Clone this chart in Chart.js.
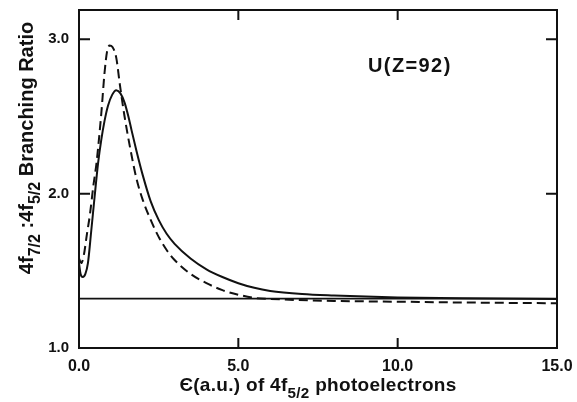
<!DOCTYPE html>
<html>
<head>
<meta charset="utf-8">
<script src="https://cdn.jsdelivr.net/npm/chart.js@4/dist/chart.umd.min.js"></script>
<style>
  html, body { margin: 0; padding: 0; background: #fff; }
  #wrap { position: relative; width: 577px; height: 402px; font-family: "Liberation Sans", Arial, sans-serif; color: #111; }
  #c { position: absolute; left: 0; top: 0; }
  .lbl { position: absolute; font-weight: bold; white-space: nowrap; }
  .lbl sub { font-size: 0.8em; vertical-align: -0.45em; line-height: 0; }
  #xtitle { left: 0; width: 636px; top: 374px; text-align: center; font-size: 19px; line-height: 22px; letter-spacing: 0.3px; }
  #ytitle { width: 320px; left: -134px; top: 137px; text-align: center; font-size: 20px; line-height: 22px; transform: rotate(-90deg); }
  #note { left: 368px; top: 54px; font-size: 20px; letter-spacing: 1.4px; }
</style>
</head>
<body>
<div id="wrap">
  <canvas id="c" width="577" height="402"></canvas>
  <div class="lbl" id="xtitle">&#1028;(a.u.) of 4f<sub>5/2</sub> photoelectrons</div>
  <div class="lbl" id="ytitle">4f<sub>7/2</sub> :4f<sub>5/2</sub> Branching Ratio</div>
  <div class="lbl" id="note">U(Z=92)</div>
</div>
<script>
// energy of 4f5/2 photoelectrons (a.u.) and branching ratio
const solidX = [0, 0.05, 0.12, 0.2, 0.28, 0.38, 0.49, 0.6, 0.7, 0.8, 0.91, 1.04, 1.17, 1.3, 1.43, 1.55, 1.65, 1.8, 2.0, 2.25, 2.5, 2.75, 3.0, 3.5, 4.0, 4.5, 5.0, 5.5, 6.0, 7, 8, 9, 10, 12, 15];
const solidY = [1.55, 1.48, 1.46, 1.48, 1.55, 1.75, 1.98, 2.2, 2.35, 2.47, 2.57, 2.64, 2.67, 2.65, 2.59, 2.5, 2.41, 2.28, 2.12, 1.95, 1.83, 1.74, 1.675, 1.58, 1.51, 1.46, 1.42, 1.39, 1.37, 1.35, 1.34, 1.333, 1.328, 1.322, 1.318];

const dashX = [0, 0.07, 0.15, 0.25, 0.34, 0.45, 0.55, 0.7, 0.8, 0.88, 0.96, 1.05, 1.17, 1.28, 1.43, 1.62, 1.8, 2.0, 2.25, 2.5, 2.75, 3.0, 3.5, 4.0, 4.5, 5.0, 5.5, 6, 8, 10, 12, 15];
const dashY = [1.58, 1.55, 1.6, 1.74, 1.86, 2.05, 2.2, 2.52, 2.78, 2.92, 2.96, 2.95, 2.88, 2.71, 2.5, 2.28, 2.1, 1.96, 1.83, 1.72, 1.635, 1.57, 1.48, 1.42, 1.375, 1.345, 1.325, 1.318, 1.305, 1.30, 1.295, 1.29];

// statistical ratio line
const refX = [0, 15];
const refY = [1.32, 1.32];

const xTicks = [0, 5, 10, 15];
const yTicks = [1, 2, 3];

const pts = (xs, ys) => xs.map((x, i) => ({ x: x, y: ys[i] }));

/* box + inward tick marks */
const frame = {
    id: "frame",
    afterDraw(chart) {
        const { ctx, chartArea: a, scales } = chart;
        ctx.save();
        ctx.strokeStyle = "#111";
        ctx.lineWidth = 2;
        ctx.strokeRect(a.left, a.top, a.right - a.left, a.bottom - a.top);
        ctx.beginPath();
        xTicks.slice(1, -1).forEach(v => {
            const px = scales.x.getPixelForValue(v);
            ctx.moveTo(px, a.bottom); ctx.lineTo(px, a.bottom - 10);
            ctx.moveTo(px, a.top); ctx.lineTo(px, a.top + 10);
        });
        yTicks.slice(1).forEach(v => {
            const py = scales.y.getPixelForValue(v);
            ctx.moveTo(a.left, py); ctx.lineTo(a.left + 11, py);
            ctx.moveTo(a.right, py); ctx.lineTo(a.right - 11, py);
        });
        ctx.stroke();
        ctx.restore();
    }
};

new Chart(document.getElementById("c"), {
    type: "line",
    data: {
        datasets: [
            { data: pts(refX, refY), borderColor: "#111", borderWidth: 1.6, pointRadius: 0 },
            { data: pts(solidX, solidY), borderColor: "#111", borderWidth: 2, pointRadius: 0, cubicInterpolationMode: "monotone" },
            { data: pts(dashX, dashY), borderColor: "#111", borderWidth: 2, borderDash: [9, 5], pointRadius: 0, cubicInterpolationMode: "monotone" }
        ]
    },
    options: {
        responsive: false,
        devicePixelRatio: 1,
        animation: false,
        layout: { padding: { left: 0, top: 10, right: 20, bottom: 0 } },
        plugins: { legend: { display: false }, tooltip: { enabled: false } },
        scales: {
            x: {
                type: "linear",
                min: 0, max: 15,
                afterBuildTicks: s => { s.ticks = xTicks.map(v => ({ value: v })); },
                afterFit: s => { s.height = 54; s.paddingLeft = 0; s.paddingRight = 0; },
                grid: { display: false, drawTicks: false },
                border: { display: false },
                ticks: {
                    color: "#111", padding: 9, maxRotation: 0,
                    font: { family: "Liberation Sans", size: 16, weight: "bold" },
                    callback: v => v.toFixed(1)
                }
            },
            y: {
                min: 1, max: 3.19,
                afterBuildTicks: s => { s.ticks = yTicks.map(v => ({ value: v })); },
                afterFit: s => { s.width = 79; s.paddingTop = 0; s.paddingBottom = 0; },
                grid: { display: false, drawTicks: false },
                border: { display: false },
                ticks: {
                    color: "#111", padding: 10,
                    font: { family: "Liberation Sans", size: 15, weight: "bold" },
                    callback: v => v.toFixed(1)
                }
            }
        }
    },
    plugins: [frame]
});
</script>
</body>
</html>
